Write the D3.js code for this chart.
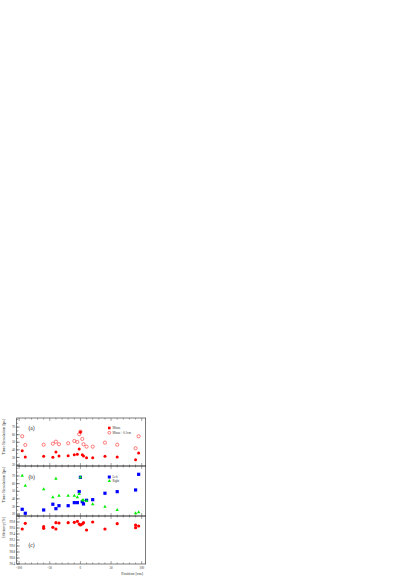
<!DOCTYPE html>
<html><head><meta charset="utf-8">
<script src="https://cdn.jsdelivr.net/npm/d3@7"></script>
<style>body{margin:0;background:#fff}svg{display:block}</style>
</head><body>
<script>
// ---- data ----
const posAB = [-95,-90,-60,-45,-40,-35,-20,-10,-5,-2,0,3,5,10,20,40,60,90,95];
const minus      = [38.9,30.6,31.5,30.2,37.2,31.9,32.3,33.6,34.1,41.1,63.6,33.6,31.9,29.6,29.6,31.5,30.6,27.0,35.9];
const minusShift = [57.9,46.4,46.8,48.1,50.8,47.4,48.7,51.7,50.4,60.6,64.0,54.4,47.4,44.2,44.2,49.5,46.8,42.1,57.9];
const leftRes  = [26.4,21.2,25.5,33.0,27.2,31.1,31.1,35.1,35.1,49.5,68.3,36.4,33.4,38.2,39.0,47.4,49.5,51.7,72.2];
const rightRes = [70.4,57.3,52.6,42.1,66.5,44.2,44.2,44.2,42.1,46.4,68.3,38.2,38.2,37.3,33.0,29.8,25.5,21.2,22.5];
const posC = [-95,-90,-60,-60,-45,-40,-40,-35,-20,-10,-5,-2,0,3,5,10,20,40,60,90,90,95];
const eff  = [99.567,99.757,99.643,99.59,99.623,99.777,99.567,99.767,99.777,99.79,99.823,99.733,99.7,99.733,99.777,99.533,99.8,99.567,99.743,99.7,99.61,99.667];
const xTicks = [-100,-50,0,50,100];
const yTicksA = [20,30,40,50,60,70];
const yTicksB = [20,30,40,50,60,70];
const yTicksC = [98.4,98.6,98.8,99.0,99.2,99.4,99.6,99.8,100];

const W=409,H=578;
const svg=d3.select("body").append("svg").attr("width",W).attr("height",H);
const font="Liberation Serif, DejaVu Serif, serif";
const L=16.7,R=145.7;
const x=d3.scaleLinear().domain([-104,106.5]).range([L,R]);

const panels=[
 {top:418,bot:466,dom:[18.7,82],ticks:yTicksA,minor:5,fmt:d=>d,title:"Time Resolution [ps]",lab:"(a)",labY:430},
 {top:466,bot:516,dom:[17.6,83.1],ticks:yTicksB,minor:5,fmt:d=>d,title:"Time Resolution [ps]",lab:"(b)",labY:479},
 {top:516,bot:564,dom:[98.4,100],ticks:yTicksC,minor:0.1,fmt:d=>d.toFixed(1),title:"Efficiency [%]",lab:"(c)",labY:547}
];
panels.forEach(p=>{p.y=d3.scaleLinear().domain(p.dom).range([p.bot,p.top]);});

const g=svg.append("g");
const stroke="#222";
panels.forEach((p,i)=>{
  g.append("rect").attr("x",L).attr("y",p.top).attr("width",R-L).attr("height",p.bot-p.top)
   .attr("fill","none").attr("stroke",stroke).attr("stroke-width",0.6);
  const [d0,d1]=p.dom;
  p.ticks.forEach(t=>{
    const yy=p.y(t); if(yy<p.top-0.01||yy>p.bot+0.01) return;
    g.append("line").attr("x1",L).attr("x2",L+3).attr("y1",yy).attr("y2",yy).attr("stroke",stroke).attr("stroke-width",0.5);
    if(yy<p.top+1.5) return; // top label omitted (shared edge)
    g.append("text").attr("x",L-1.5).attr("y",yy).attr("dy","0.35em").attr("text-anchor","end")
     .attr("font-family",font).attr("font-size",3.2).attr("fill","#333").text(p.fmt(t));
  });
  const step=p.minor;
  for(let v=Math.ceil(d0/step)*step; v<=d1; v+=step){
    const yy=p.y(v);
    g.append("line").attr("x1",L).attr("x2",L+1.5).attr("y1",yy).attr("y2",yy).attr("stroke",stroke).attr("stroke-width",0.4);
  }
  for(let v=-100; v<=100; v+=10){
    const xx=x(v), major=(v%50===0), len=major?3:1.5;
    g.append("line").attr("x1",xx).attr("x2",xx).attr("y1",p.bot).attr("y2",p.bot-len).attr("stroke",stroke).attr("stroke-width",0.4);
    g.append("line").attr("x1",xx).attr("x2",xx).attr("y1",p.top).attr("y2",p.top+len).attr("stroke",stroke).attr("stroke-width",0.4);
  }
  g.append("text").attr("transform",`translate(5.2,${p.top+1}) rotate(-90)`).attr("text-anchor","end")
   .attr("font-family",font).attr("font-size",i===2?3.6:4.2).attr("fill","#333").text(p.title);
  g.append("text").attr("x",28.5).attr("y",p.labY).attr("font-family",font).attr("font-size",5.5).attr("fill","#222").text(p.lab);
});

xTicks.forEach(t=>{
  g.append("text").attr("x",x(t)).attr("y",568.5).attr("text-anchor","middle")
   .attr("font-family",font).attr("font-size",3.3).attr("fill","#333").text(t);
});
g.append("text").attr("x",143).attr("y",574.5).attr("text-anchor","end")
 .attr("font-family",font).attr("font-size",4).attr("fill","#333").text("Position [cm]");

const pa=panels[0],pb=panels[1],pc=panels[2];
g.selectAll(".os").data(posAB).enter().append("circle")
 .attr("cx",d=>x(d)).attr("cy",(d,i)=>pa.y(minusShift[i])).attr("r",1.6)
 .attr("fill","none").attr("stroke","#ff0000").attr("stroke-width",0.5);
g.selectAll(".mf").data(posAB).enter().append("circle")
 .attr("cx",d=>x(d)).attr("cy",(d,i)=>pa.y(minus[i])).attr("r",1.5).attr("fill","#ff0000");
g.selectAll(".lq").data(posAB).enter().append("rect")
 .attr("x",d=>x(d)-1.6).attr("y",(d,i)=>pb.y(leftRes[i])-1.6).attr("width",3.2).attr("height",3.2).attr("fill","#0000ff");
const tri=d3.symbol().type(d3.symbolTriangle).size(5);
g.selectAll(".rt").data(posAB).enter().append("path")
 .attr("d",tri).attr("transform",(d,i)=>`translate(${x(d)},${pb.y(rightRes[i])})`).attr("fill","#00ee00");
g.selectAll(".ef").data(posC).enter().append("circle")
 .attr("cx",d=>x(d)).attr("cy",(d,i)=>pc.y(eff[i])).attr("r",1.6).attr("fill","#ff0000");

const lf=3;
g.append("rect").attr("x",108).attr("y",426.7).attr("width",2.6).attr("height",2.6).attr("fill","#ff0000");
g.append("text").attr("x",112.5).attr("y",428).attr("dy","0.35em").attr("font-family",font).attr("font-size",lf).attr("fill","#333").text("Minus");
g.append("circle").attr("cx",109.3).attr("cy",432.7).attr("r",1.4).attr("fill","none").attr("stroke","#ff0000").attr("stroke-width",0.5);
g.append("text").attr("x",112.5).attr("y",432.7).attr("dy","0.35em").attr("font-family",font).attr("font-size",lf).attr("fill","#333").text("Minus + 0.1cm");
g.append("rect").attr("x",107.8).attr("y",475.5).attr("width",3).attr("height",3).attr("fill","#0000ff");
g.append("text").attr("x",112.5).attr("y",477).attr("dy","0.35em").attr("font-family",font).attr("font-size",lf).attr("fill","#333").text("Left");
g.append("path").attr("d",tri).attr("transform","translate(109.3,481)").attr("fill","#00ee00");
g.append("text").attr("x",112.5).attr("y",481).attr("dy","0.35em").attr("font-family",font).attr("font-size",lf).attr("fill","#333").text("Right");
</script>
</body></html>
